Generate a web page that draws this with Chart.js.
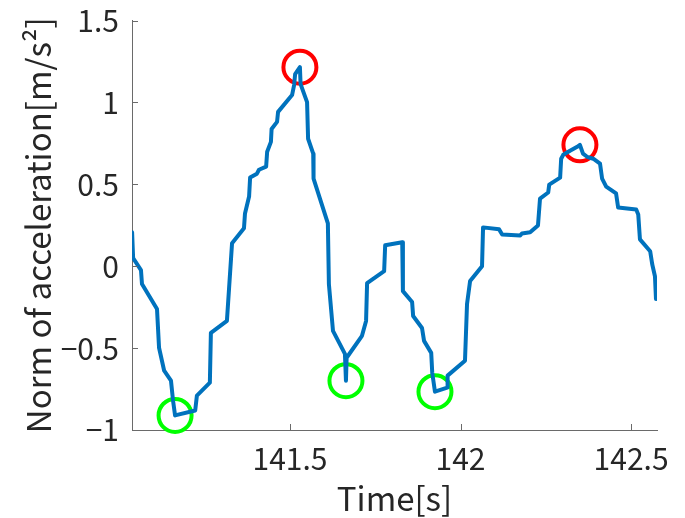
<!DOCTYPE html>
<html>
<head>
<meta charset="utf-8">
<script src="https://cdn.jsdelivr.net/npm/chart.js@4.4.0/dist/chart.umd.min.js"></script>
<style>
  html, body { margin: 0; padding: 0; background: #ffffff; }
  #wrap { width: 685px; height: 518px; }
</style>
</head>
<body>
<div id="wrap"><canvas id="c" width="685" height="518"></canvas></div>
<script>
// ---- data ----
const TIME = [141.037, 141.040, 141.063, 141.066, 141.110, 141.116, 141.131, 141.151, 141.157, 141.163,
  141.222, 141.227, 141.265, 141.268, 141.315, 141.330, 141.365, 141.368, 141.380, 141.383,
  141.403, 141.409, 141.430, 141.433, 141.444, 141.446, 141.462, 141.465, 141.506, 141.512,
  141.515, 141.529, 141.531, 141.550, 141.553, 141.568, 141.569, 141.611, 141.614, 141.626,
  141.661, 141.664, 141.666, 141.711, 141.723, 141.726, 141.776, 141.779, 141.829, 141.831,
  141.858, 141.861, 141.887, 141.893, 141.914, 141.917, 141.925, 141.961, 141.962, 142.013,
  142.019, 142.028, 142.063, 142.066, 142.113, 142.122, 142.175, 142.180, 142.204, 142.227,
  142.233, 142.257, 142.260, 142.292, 142.295, 142.301, 142.321, 142.342, 142.350, 142.359,
  142.371, 142.389, 142.409, 142.415, 142.427, 142.456, 142.462, 142.515, 142.521, 142.526,
  142.556, 142.562, 142.570, 142.573];
const ACCEL = [0.207, 0.049, -0.024, -0.109, -0.261, -0.498, -0.638, -0.699, -0.820, -0.911,
  -0.881, -0.790, -0.711, -0.407, -0.334, 0.140, 0.231, 0.322, 0.425, 0.541,
  0.565, 0.589, 0.608, 0.699, 0.759, 0.838, 0.881, 0.942, 1.045, 1.106,
  1.173, 1.215, 1.112, 1.002, 0.778, 0.687, 0.535, 0.261, -0.109, -0.395,
  -0.535, -0.699, -0.559, -0.425, -0.334, -0.103, -0.030, 0.128, 0.146, -0.152,
  -0.219, -0.304, -0.377, -0.456, -0.529, -0.650, -0.766, -0.741, -0.668, -0.577,
  -0.231, -0.091, 0.000, 0.237, 0.225, 0.194, 0.188, 0.200, 0.207, 0.249,
  0.413, 0.450, 0.498, 0.541, 0.656, 0.680, 0.705, 0.729, 0.741, 0.687,
  0.668, 0.656, 0.626, 0.535, 0.486, 0.444, 0.358, 0.346, 0.316, 0.164,
  0.091, 0.012, -0.061, -0.200];
const PEAK_T = [141.529, 142.350];
const PEAK_V = [1.215, 0.741];
const VALLEY_T = [141.163, 141.664, 141.925];
const VALLEY_V = [-0.911, -0.699, -0.766];
const X_TICKS = [141.5, 142, 142.5];
const X_TICK_LABELS = ['141.5', '142', '142.5'];
const Y_TICKS = [-1, -0.5, 0, 0.5, 1, 1.5];
const Y_TICK_LABELS = ['\u22121', '\u22120.5', '0', '0.5', '1', '1.5'];
const X_RANGE = [141.0367, 142.576];
const Y_RANGE = [-1, 1.5];
const X_TITLE = 'Time[s]';
const Y_TITLE = 'Norm of acceleration[m/s\u00B2]';

const toXY = (xs, ys) => xs.map((x, i) => ({ x: x, y: ys[i] }));

const FONT = '"Noto Sans CJK JP", "Noto Sans", sans-serif';
const TEXT_COLOR = '#262626';
const AXIS_COLOR = '#6a6a6a';

const inwardTicks = {
  id: 'inwardTicks',
  afterDraw(chart) {
    const ctx = chart.ctx;
    const xs = chart.scales.x, ys = chart.scales.y;
    const area = chart.chartArea;
    ctx.save();
    ctx.strokeStyle = AXIS_COLOR;
    ctx.lineWidth = 1;
    ctx.beginPath();
    X_TICKS.forEach(v => {
      const px = Math.round(xs.getPixelForValue(v)) + 0.5;
      ctx.moveTo(px, area.bottom);
      ctx.lineTo(px, area.bottom - 6);
    });
    Y_TICKS.forEach(v => {
      const py = Math.round(ys.getPixelForValue(v)) + 0.5;
      ctx.moveTo(area.left, py);
      ctx.lineTo(area.left + 6, py);
    });
    ctx.stroke();
    ctx.restore();
  }
};

new Chart(document.getElementById('c'), {
  type: 'scatter',
  data: {
    datasets: [
      {
        data: toXY(TIME, ACCEL),
        showLine: true,
        borderColor: '#0072BD',
        borderWidth: 4,
        pointRadius: 0,
        fill: false,
        tension: 0,
        borderJoinStyle: 'round',
        borderCapStyle: 'round'
      },
      {
        data: toXY(PEAK_T, PEAK_V),
        showLine: false,
        pointRadius: 16.5,
        pointBorderWidth: 4,
        pointBorderColor: '#FF0000',
        pointBackgroundColor: 'rgba(0,0,0,0)',
        clip: false
      },
      {
        data: toXY(VALLEY_T, VALLEY_V),
        showLine: false,
        pointRadius: 16.5,
        pointBorderWidth: 4,
        pointBorderColor: '#00FF00',
        pointBackgroundColor: 'rgba(0,0,0,0)',
        clip: false
      }
    ]
  },
  options: {
    responsive: false,
    animation: false,
    events: [],
    layout: { padding: { top: 18, right: 28, left: 0, bottom: 0 } },
    plugins: { legend: { display: false }, tooltip: { enabled: false } },
    scales: {
      x: {
        type: 'linear',
        position: 'bottom',
        min: X_RANGE[0],
        max: X_RANGE[1],
        afterBuildTicks: s => { s.ticks = X_TICKS.map(v => ({ value: v })); },
        afterFit: s => { s.height = 88; s.paddingLeft = 0; s.paddingRight = 0; },
        grid: { display: true, drawOnChartArea: false, drawTicks: false },
        border: { display: true, color: AXIS_COLOR, width: 1 },
        ticks: {
          autoSkip: false,
          maxRotation: 0,
          padding: 11,
          color: TEXT_COLOR,
          font: { family: FONT, size: 30 },
          callback: (v) => { const i = X_TICKS.indexOf(v); return i >= 0 ? X_TICK_LABELS[i] : ''; }
        },
        title: {
          display: true,
          text: X_TITLE,
          color: TEXT_COLOR,
          font: { family: FONT, size: 33, lineHeight: 1.2 },
          padding: { top: 0, bottom: 0 }
        }
      },
      y: {
        type: 'linear',
        position: 'left',
        min: Y_RANGE[0],
        max: Y_RANGE[1],
        afterBuildTicks: s => { s.ticks = Y_TICKS.map(v => ({ value: v })); },
        afterFit: s => { s.width = 132; s.paddingTop = 0; s.paddingBottom = 0; },
        grid: { display: true, drawOnChartArea: false, drawTicks: false },
        border: { display: true, color: AXIS_COLOR, width: 1 },
        ticks: {
          autoSkip: false,
          padding: 13,
          color: TEXT_COLOR,
          font: { family: FONT, size: 30 },
          callback: (v) => { const i = Y_TICKS.indexOf(v); return i >= 0 ? Y_TICK_LABELS[i] : ''; }
        },
        title: {
          display: true,
          text: Y_TITLE,
          color: TEXT_COLOR,
          font: { family: FONT, size: 33, lineHeight: 1.2 },
          padding: { top: 19, bottom: 0 }
        }
      }
    }
  },
  plugins: [inwardTicks]
});
</script>
</body>
</html>
